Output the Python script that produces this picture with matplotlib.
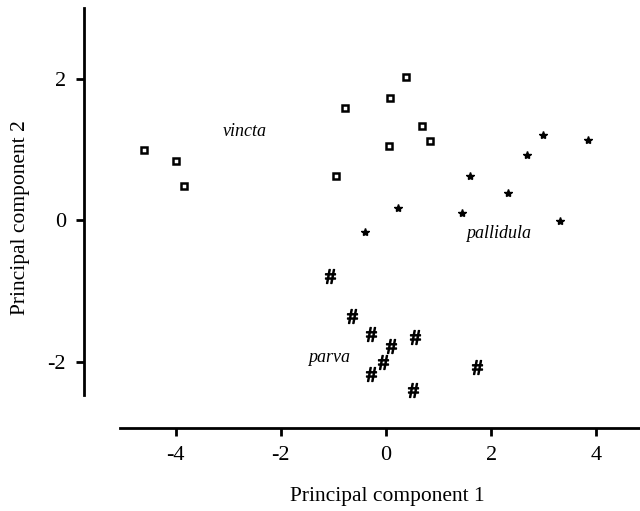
import matplotlib
matplotlib.use('Agg')
import matplotlib.pyplot as plt

plt.rcParams['font.family'] = ['Liberation Serif', 'DejaVu Serif']
plt.rcParams['mathtext.fontset'] = 'custom'
plt.rcParams['mathtext.rm'] = 'Liberation Serif'

# vincta (square markers)
vincta_x = [-4.60, -3.99, -3.84, -0.78, 0.08, 0.38, 0.68, 0.84, 0.06, -0.95]
vincta_y = [1.00, 0.84, 0.49, 1.59, 1.73, 2.03, 1.34, 1.12, 1.05, 0.63]

# pallidula (asterisks)
pallidula_x = [2.98, 3.84, 2.68, 1.60, 2.32, 1.44, 3.31, 0.23, -0.40]
pallidula_y = [1.21, 1.14, 0.93, 0.63, 0.39, 0.11, -0.01, 0.18, -0.16]

# parva (hash)
parva_x = [-1.06, -0.65, -0.29, 0.55, 0.10, -0.06, -0.29, 1.73, 0.51]
parva_y = [-0.78, -1.35, -1.60, -1.65, -1.77, -2.00, -2.17, -2.07, -2.40]

group_labels = ['vincta', 'pallidula', 'parva']
label_x = [-2.68, 2.13, -1.08]
label_y = [1.26, -0.18, -1.94]

x_ticks = [-4, -2, 0, 2, 4]
y_ticks = [-2, 0, 2]

fig = plt.figure(figsize=(6.4, 5.11), dpi=100)
ax = fig.add_axes([0.13125, 0.1624, 0.869, 0.822])

ax.plot(vincta_x, vincta_y, linestyle='none', marker='s', markersize=5,
        markerfacecolor='white', markeredgecolor='black', markeredgewidth=1.8)
ax.plot(pallidula_x, pallidula_y, linestyle='none', marker='*', markersize=6,
        color='black')
ax.plot(parva_x, parva_y, linestyle='none', marker=r'$\mathrm{\#}$', markersize=10,
        color='black')

for lab, lx, ly in zip(group_labels, label_x, label_y):
    ax.text(lx, ly, lab, style='italic', fontsize=13, ha='center', va='center')

ax.set_xlim(-5.74, 4.83)
ax.set_ylim(-2.93, 3.0)
ax.set_xticks(x_ticks)
ax.set_yticks(y_ticks)
ax.set_xticklabels([str(t) for t in x_ticks])
ax.set_yticklabels([str(t) for t in y_ticks])

for s in ['top', 'right']:
    ax.spines[s].set_visible(False)
ax.spines['left'].set_bounds(-2.47, 3.0)
ax.spines['bottom'].set_bounds(-5.06, 4.83)
ax.spines['left'].set_linewidth(2)
ax.spines['bottom'].set_linewidth(2)

ax.tick_params(direction='out', length=6, width=2, labelsize=16, pad=7)

ax.set_xlabel('Principal component 1', fontsize=15.5, va='center')
ax.set_ylabel('Principal component 2', fontsize=15.5, va='center')
ax.xaxis.set_label_coords(0.545, -0.164)
ax.yaxis.set_label_coords(-0.115, 0.5)

fig.savefig('out.png', dpi=100)
